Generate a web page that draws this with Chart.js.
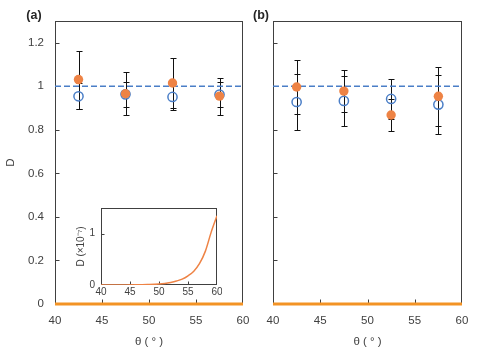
<!DOCTYPE html>
<html lang="en">
<head>
  <meta charset="UTF-8" />
  <title>D vs theta</title>
  <script src="https://cdn.jsdelivr.net/npm/chart.js"></script>
  <style>
    body { margin: 0; background: #fff; font-family: "Liberation Sans", Arial, sans-serif; }
    #wrap { position: relative; width: 479px; height: 352px; overflow: hidden; }
    canvas { position: absolute; }
    .tag { position: absolute; font-weight: bold; font-size: 12.5px; color: #262626; transform: translate(-50%, -50%); }
  </style>
</head>
<body>
  <div id="wrap">
    <canvas id="chartA" style="left:0;top:0" width="250" height="352"></canvas>
    <canvas id="chartB" style="left:245px;top:0" width="234" height="352"></canvas>
    <canvas id="inset" style="left:72px;top:200px" width="150" height="100"></canvas>
    <div class="tag" style="left:34px;top:15px">(a)</div>
    <div class="tag" style="left:261px;top:15px">(b)</div>
  </div>

  <script>
    // measured points, theta in degrees
    const theta = [42.5, 47.5, 52.5, 57.5];

    const aBlue = [0.954, 0.963, 0.951, 0.962];
    const aBlueErr = [0.06, 0.057, 0.06, 0.058];
    const aOrange = [1.031, 0.966, 1.015, 0.955];
    const aOrangeErr = [0.133, 0.1, 0.115, 0.085];

    const bBlue = [0.928, 0.933, 0.942, 0.916];
    const bBlueErr = [0.13, 0.115, 0.092, 0.136];
    const bOrange = [0.997, 0.978, 0.868, 0.954];
    const bOrangeErr = [0.125, 0.095, 0.075, 0.135];

    // reference line D = 1
    const refX = [40, 60];
    const refY = [1, 1];

    // model curve, in units of 1e-7
    const curveX = [40, 42, 44, 46, 48, 50, 51, 52, 53, 54, 55, 56, 57, 58, 59, 60];
    const curveY = [0, 0, 0.001, 0.003, 0.008, 0.018, 0.03, 0.05, 0.077, 0.115, 0.18, 0.27, 0.42, 0.66, 1.03, 1.35];

    const BLUE = '#4A7EC7';
    const ORANGE = '#EE8345';
    const LINE_ORANGE = '#F39325';
    const TXT = '#404040';
    const FONT = 'Liberation Sans';

    const pts = (xs, ys, k = 1) => xs.map((x, i) => ({ x, y: ys[i] * k }));

    // keep the plot area where the layout padding puts it
    const noLabelPad = s => { s.paddingLeft = 0; s.paddingRight = 0; s.paddingTop = 0; s.paddingBottom = 0; };

    // box round the plot area, with short inward ticks
    const framePlugin = {
      id: 'frame',
      beforeDatasetsDraw(chart, args, opts) {
        const { ctx, chartArea: a, scales: { x, y } } = chart;
        const L = Math.round(a.left) + 0.5, R = Math.round(a.right) - 0.5;
        const T = Math.round(a.top) + 0.5, B = Math.round(a.bottom) - 0.5;
        ctx.save();
        ctx.strokeStyle = opts.color || '#404040';
        ctx.lineWidth = 1;
        ctx.strokeRect(L, T, R - L, B - T);
        ctx.beginPath();
        x.ticks.forEach(t => {
          if (t.value <= x.min || t.value >= x.max) return;
          const px = Math.round(x.getPixelForValue(t.value)) + 0.5;
          ctx.moveTo(px, B); ctx.lineTo(px, B - opts.len);
        });
        y.ticks.forEach(t => {
          if (t.value <= y.min || t.value >= y.max) return;
          const py = Math.round(y.getPixelForValue(t.value)) + 0.5;
          ctx.moveTo(L, py); ctx.lineTo(L + opts.len, py);
        });
        ctx.stroke();
        ctx.restore();
      }
    };

    // vertical error bars from dataset.errors
    const errorPlugin = {
      id: 'errbars',
      beforeDatasetsDraw(chart) {
        const { ctx, scales: { x, y } } = chart;
        ctx.save();
        ctx.strokeStyle = '#111';
        ctx.lineWidth = 1;
        chart.data.datasets.forEach(ds => {
          if (!ds.errors) return;
          ds.data.forEach((p, i) => {
            const px = Math.round(x.getPixelForValue(p.x)) + 0.5;
            const top = Math.round(y.getPixelForValue(p.y + ds.errors[i])) + 0.5;
            const bot = Math.round(y.getPixelForValue(p.y - ds.errors[i])) + 0.5;
            ctx.beginPath();
            ctx.moveTo(px, top); ctx.lineTo(px, bot);
            ctx.moveTo(px - 3, top); ctx.lineTo(px + 3, top);
            ctx.moveTo(px - 3, bot); ctx.lineTo(px + 3, bot);
            ctx.stroke();
          });
        });
        ctx.restore();
      }
    };

    function panel(id, blue, blueErr, orange, orangeErr, withLabels) {
      const pad = withLabels ? { top: 21, right: 7, left: 0, bottom: 0 } : { top: 21, right: 17, left: 0, bottom: 0 };
      return new Chart(document.getElementById(id), {
        type: 'scatter',
        data: {
          datasets: [
            { data: pts(theta, orange), errors: orangeErr, pointRadius: 4.7, pointHoverRadius: 4.7,
              backgroundColor: ORANGE, borderWidth: 0 },
            { data: pts(theta, blue), errors: blueErr, pointRadius: 4.6, pointHoverRadius: 4.6,
              backgroundColor: 'rgba(0,0,0,0)', borderColor: BLUE, borderWidth: 1.5 },
            { type: 'line', data: pts(refX, refY), borderColor: BLUE, borderWidth: 1.5,
              borderDash: [6, 3], pointRadius: 0 },
            { type: 'line', data: pts(curveX, curveY, 1e-7), borderColor: LINE_ORANGE, borderWidth: 3,
              pointRadius: 0, clip: false }
          ]
        },
        options: {
          responsive: false,
          animation: false,
          events: [],
          layout: { padding: pad },
          plugins: {
            legend: { display: false },
            tooltip: { enabled: false },
            frame: { len: 4, color: '#404040' }
          },
          scales: {
            x: {
              type: 'linear', min: 40, max: 60,
              ticks: { stepSize: 5, padding: 10, color: TXT, font: { family: FONT, size: 11.5 } },
              grid: { display: false, drawTicks: false },
              border: { display: false },
              title: { display: true, text: 'θ ( ° )', color: TXT, font: { family: FONT, size: 11.5 },
                       padding: { top: 0, bottom: 3 } },
              afterFit: s => { s.height = 48; noLabelPad(s); }
            },
            y: {
              min: 0, max: 1.3,
              ticks: { stepSize: 0.2, includeBounds: false, display: withLabels, padding: 11, color: TXT,
                       font: { family: FONT, size: 11.5 }, callback: v => String(+v.toFixed(1)) },
              grid: { display: false, drawTicks: false },
              border: { display: false },
              title: { display: withLabels, text: 'D', color: TXT, font: { family: FONT, size: 11.5 } },
              afterFit: s => { s.width = withLabels ? 55 : 28; noLabelPad(s); }
            }
          }
        },
        plugins: [framePlugin, errorPlugin]
      });
    }

    panel('chartA', aBlue, aBlueErr, aOrange, aOrangeErr, true);
    panel('chartB', bBlue, bBlueErr, bOrange, bOrangeErr, false);

    new Chart(document.getElementById('inset'), {
      type: 'line',
      data: {
        datasets: [
          { data: pts(curveX, curveY), borderColor: ORANGE, borderWidth: 1.5, pointRadius: 0,
            cubicInterpolationMode: 'monotone' }
        ]
      },
      options: {
        responsive: false,
        animation: false,
        events: [],
        layout: { padding: { top: 8, right: 5, left: 0, bottom: 0 } },
        plugins: {
          legend: { display: false },
          tooltip: { enabled: false },
          frame: { len: 3, color: '#404040' }
        },
        scales: {
          x: {
            type: 'linear', min: 40, max: 60,
            ticks: { stepSize: 5, padding: 1, color: TXT, font: { family: FONT, size: 10 } },
            grid: { display: false, drawTicks: false },
            border: { display: false },
            afterFit: s => { s.height = 15; noLabelPad(s); }
          },
          y: {
            min: 0, max: 1.5,
            ticks: { stepSize: 1, includeBounds: false, padding: 6, color: TXT, font: { family: FONT, size: 10 } },
            grid: { display: false, drawTicks: false },
            border: { display: false },
            title: { display: true, text: 'D (×10⁻⁷)', color: TXT, font: { family: FONT, size: 10 },
                     padding: { top: 3, bottom: 0 } },
            afterFit: s => { s.width = 29; noLabelPad(s); }
          }
        }
      },
      plugins: [framePlugin]
    });
  </script>
</body>
</html>
